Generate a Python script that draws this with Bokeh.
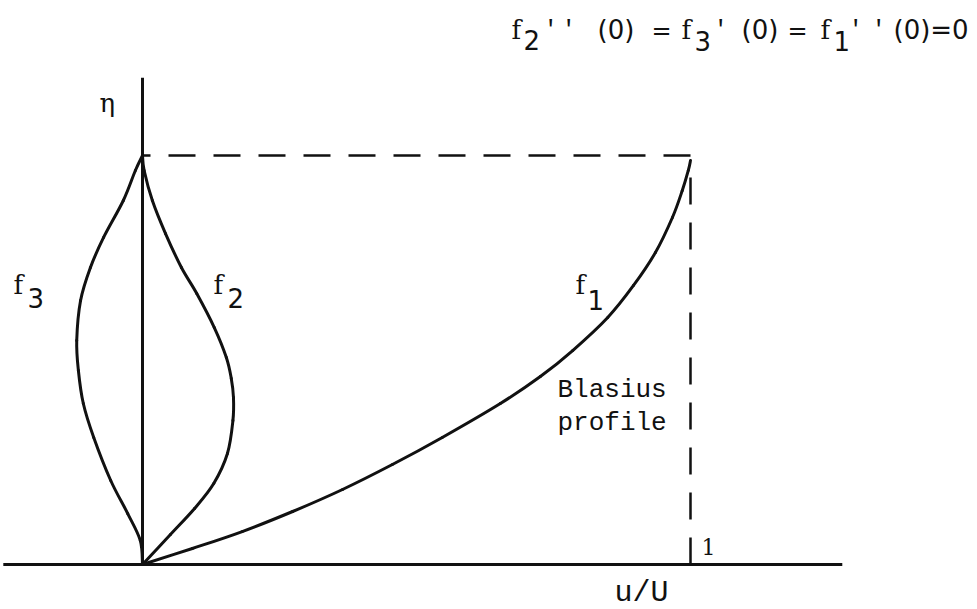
from bokeh.plotting import figure
from bokeh.models import Range1d, Label
from bokeh.embed import file_html
from bokeh.resources import INLINE

# Profiles plotted as u/U (horizontal) against eta (vertical); eta = 5 is the edge of the layer
f1_u = [0.0, 0.091, 0.182, 0.274, 0.365, 0.456, 0.547, 0.653, 0.726, 0.785,
        0.849, 0.896, 0.936, 0.967, 0.985, 0.996, 1.0]
f1_eta = [0.0, 0.196, 0.403, 0.648, 0.917, 1.222, 1.553, 1.968, 2.298, 2.616,
          3.020, 3.411, 3.814, 4.242, 4.572, 4.817, 4.939]

f2_u = [0.0, 0.051, 0.095, 0.130, 0.155, 0.165, 0.166, 0.162, 0.153, 0.131,
        0.099, 0.071, 0.042, 0.018, 0.003, 0.0]
f2_eta = [0.0, 0.367, 0.685, 0.990, 1.357, 1.760, 2.042, 2.274, 2.531, 2.897,
          3.313, 3.631, 4.046, 4.450, 4.817, 5.0]

f3_u = [0.0, -0.004, -0.027, -0.058, -0.089, -0.108, -0.117, -0.120,
        -0.113, -0.095, -0.071, -0.035, -0.013, 0.0]
f3_eta = [0.0, 0.293, 0.623, 1.027, 1.553, 1.968, 2.372, 2.738,
          3.227, 3.631, 3.998, 4.450, 4.817, 5.0]

eta_edge = 5.0      # outer edge of the boundary layer
u_free = 1.0        # free-stream velocity ratio

W, H = 977, 609

p = figure(width=W, height=H,
           x_range=Range1d(-142 / 548, (W - 142) / 548),
           y_range=Range1d((564 - H) / 81.8, 564 / 81.8),
           x_axis_type=None, y_axis_type=None,
           output_backend="svg", toolbar_location=None,
           min_border=0, background_fill_color="white",
           border_fill_color="white")
p.grid.visible = False
p.outline_line_color = None

ink = "#111111"

# coordinate axes drawn as plain strokes
p.segment(x0=[-0.254], y0=[0.0], x1=[1.277], y1=[0.0], line_color=ink, line_width=3)
p.segment(x0=[0.0], y0=[0.0], x1=[0.0], y1=[5.95], line_color=ink, line_width=3)

# edge of the layer and free-stream velocity
p.line([u_free, 0.0], [eta_edge, eta_edge], line_color=ink, line_width=2.5,
       line_dash="27 18")
p.line([u_free, u_free], [0.0, 4.9], line_color=ink, line_width=2.5,
       line_dash="27 18")


def smooth_curve(xs, ys):
    """Draw a curve through the given points as a chain of cubic Bezier pieces."""
    n = len(xs)
    x0, y0, x1, y1, cx0, cy0, cx1, cy1 = ([] for _ in range(8))
    for i in range(n - 1):
        a = max(i - 1, 0)
        d = min(i + 2, n - 1)
        x0.append(xs[i]); y0.append(ys[i])
        x1.append(xs[i + 1]); y1.append(ys[i + 1])
        cx0.append(xs[i] + (xs[i + 1] - xs[a]) / 6)
        cy0.append(ys[i] + (ys[i + 1] - ys[a]) / 6)
        cx1.append(xs[i + 1] - (xs[d] - xs[i]) / 6)
        cy1.append(ys[i + 1] - (ys[d] - ys[i]) / 6)
    p.bezier(x0=x0, y0=y0, x1=x1, y1=y1, cx0=cx0, cy0=cy0, cx1=cx1, cy1=cy1,
             line_color=ink, line_width=3, line_cap="round")


for xs, ys in ((f1_u, f1_eta), (f2_u, f2_eta), (f3_u, f3_eta)):
    smooth_curve(xs, ys)


def put(text, x, baseline, size, font):
    # Bokeh sets the alphabetic baseline a little low; lift it by part of the size
    lift = round(0.3 * size)
    p.add_layout(Label(x=x, y=H - baseline + lift, x_units="screen", y_units="screen",
                       text=text, text_font=font, text_font_size=f"{size}px",
                       text_color=ink, text_baseline="alphabetic", text_align="left"))


SERIF = "DejaVu Serif"
SANS = "DejaVu Sans"
MONO = "Liberation Mono"

# boundary condition statement
put("f", 511, 37, 26, SERIF)
put("2", 523, 47, 26, SANS)
put("'", 543, 37, 24, MONO)
put("'", 561, 37, 24, MONO)
put("(0)", 597, 37, 26, SANS)
put("=", 651, 37, 24, SANS)
put("f", 681, 37, 26, SERIF)
put("3", 694, 48, 26, SANS)
put("'", 713, 37, 24, MONO)
put("(0)", 741, 37, 26, SANS)
put("=", 787, 37, 24, SANS)
put("f", 820, 37, 26, SERIF)
put("1", 833, 48, 26, SANS)
put("'", 848, 37, 24, MONO)
put("'", 871, 37, 24, MONO)
put("(0)=0", 893, 37, 26, SANS)

# curve labels
put("f", 13, 292, 26, SERIF)
put("3", 27, 305, 26, SANS)
put("f", 213, 292, 26, SERIF)
put("2", 227, 305, 26, SANS)
put("f", 575, 292, 26, SERIF)
put("1", 587, 307, 26, SANS)

put("η", 99, 110, 26, SERIF)
put("Blasius", 557, 397, 26, MONO)
put("profile", 557, 430, 26, MONO)
put("1", 701, 553, 22, SERIF)
put("u/U", 614, 601, 30, MONO)

open("out.html", "w").write(file_html(p, INLINE))
